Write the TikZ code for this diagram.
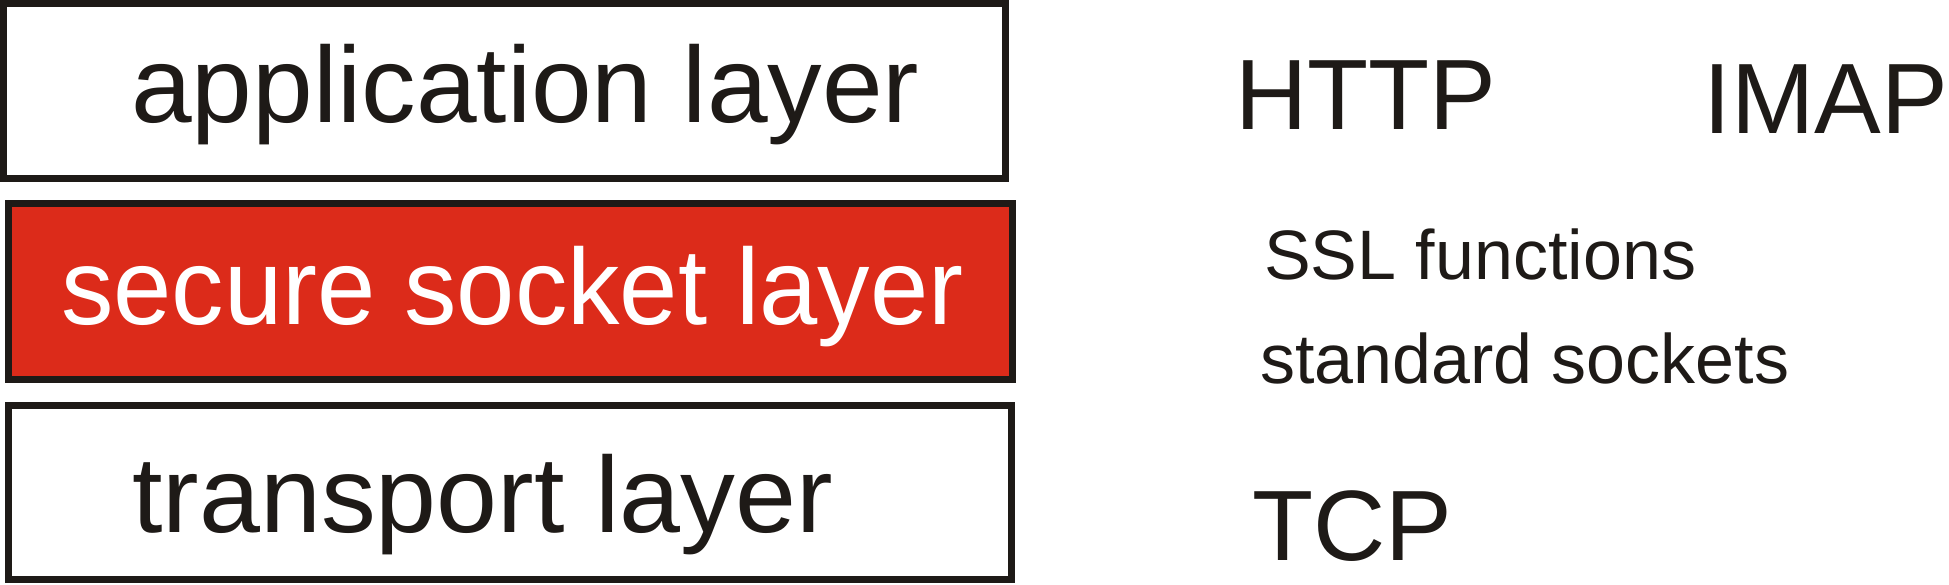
\documentclass[tikz,border=0pt]{standalone}
\usepackage{fontspec}
\setmainfont{Liberation Sans}
\definecolor{sslred}{RGB}{220,43,26}
\definecolor{ink}{RGB}{30,26,23}
\begin{document}
\begin{tikzpicture}[x=1pt,y=-1pt,
  layerbox/.style={draw=ink,line width=7pt,inner sep=0pt},
  boxtext/.style={anchor=base west,inner sep=0pt,font=\fontsize{108}{118}\selectfont},
  protobig/.style={anchor=base west,inner sep=0pt,text=ink,font=\fontsize{100}{110}\selectfont},
  protosmall/.style={anchor=base west,inner sep=0pt,text=ink,font=\fontsize{70}{80}\selectfont}]
\useasboundingbox (0,0) rectangle (1949,585);
\node[layerbox,minimum width=1002pt,minimum height=175pt] (app) at (504.5,91) {};
\node[layerbox,fill=sslred,minimum width=1004pt,minimum height=176pt] (ssl) at (510.5,291.5) {};
\node[layerbox,minimum width=1003pt,minimum height=174pt] (trans) at (510,492.5) {};
\node[boxtext,text=ink] (appt) at (131,123) {\scalebox{1.01}[1]{application layer}};
\node[boxtext,text=white] (sslt) at (61,325) {\scalebox{0.97}[1]{secure socket layer}};
\node[boxtext,text=ink] (transt) at (132,532) {\scalebox{1.015}[1]{transport layer}};
\node[protobig] (http) at (1235,130) {HTTP};
\node[protobig] (imap) at (1703,134) {IMAP};
\node[protosmall] (sslf) at (1264,280) {SSL functions};
\node[protosmall] (std) at (1260,383) {standard sockets};
\node[protobig] (tcp) at (1252,560) {TCP};
\end{tikzpicture}
\end{document}
